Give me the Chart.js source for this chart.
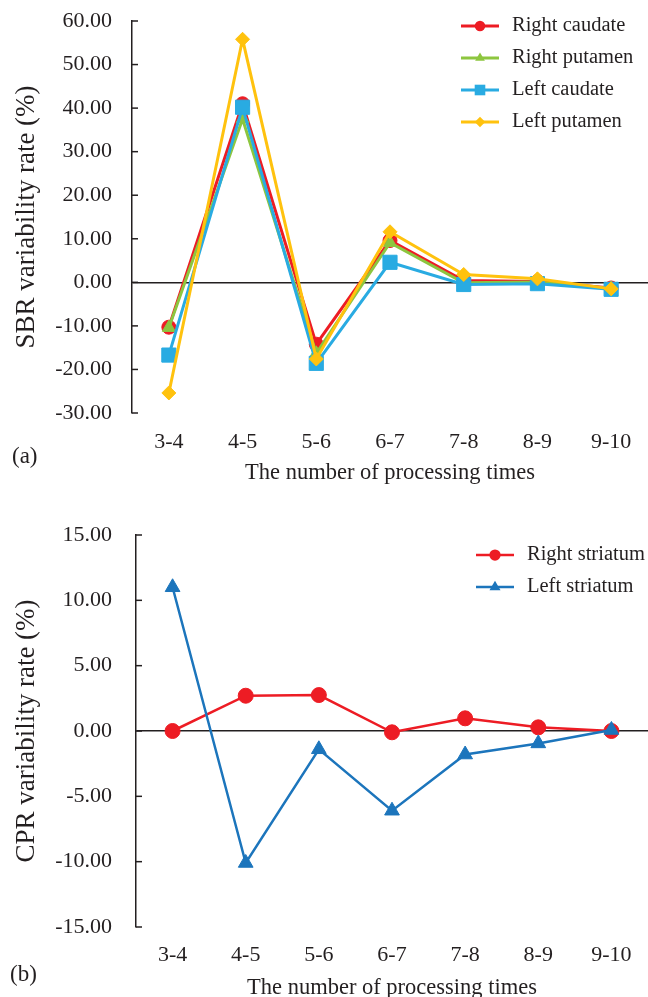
<!DOCTYPE html>
<html>
<head>
<meta charset="utf-8">
<script src="https://cdn.jsdelivr.net/npm/chart.js@4.4.0/dist/chart.umd.min.js"></script>
<style>
  html, body { margin: 0; padding: 0; background: #fff; overflow: hidden; }
  body { width: 648px; height: 997px; position: relative; font-family: 'Liberation Serif', 'Times New Roman', serif; color: #231f20; }
  canvas { position: absolute; left: 0; }
  #chartA { top: 0; }
  #chartB { top: 497px; }
  .panel { position: absolute; font-size: 23px; line-height: 26px; }
</style>
</head>
<body>
<canvas id="chartA" width="648" height="497"></canvas>
<canvas id="chartB" width="648" height="520"></canvas>
<div class="panel" style="left:12px; top:443px">(a)</div>
<div class="panel" style="left:10px; top:961px">(b)</div>
<script>
const categories = ["3-4", "4-5", "5-6", "6-7", "7-8", "8-9", "9-10"];

// (a) SBR variability rate (%)
const rightCaudate = [-10.3, 41.0, -14.2, 9.6, 0.4, 0.2, -1.3];
const rightPutamen = [-10.4, 37.5, -16.3, 9.1, -0.1, 0.1, -1.4];
const leftCaudate  = [-16.7, 40.2, -18.6, 4.6, -0.5, -0.3, -1.6];
const leftPutamen  = [-25.4, 55.8, -17.6, 11.6, 1.8, 0.8, -1.5];

// (b) CPR variability rate (%)
const rightStriatum = [0, 2.70, 2.75, -0.10, 0.97, 0.28, 0];
const leftStriatum  = [11.0, -10.1, -1.4, -6.1, -1.8, -0.95, 0.08];

const axisColor = "#231f20";
const serif = "'Liberation Serif', 'Times New Roman', serif";

// tick marks pointing into the plot, like the original
const insideTicks = {
  id: "insideTicks",
  afterDraw(chart) {
    const y = chart.scales.y, ctx = chart.ctx, left = chart.chartArea.left;
    ctx.save();
    ctx.strokeStyle = axisColor;
    ctx.lineWidth = 1.5;
    y.ticks.forEach((t, i) => {
      const py = y.getPixelForTick(i);
      ctx.beginPath();
      ctx.moveTo(left, py);
      ctx.lineTo(left + 6, py);
      ctx.stroke();
    });
    ctx.restore();
  }
};

// legend with a line sample and the marker in the middle
const lineLegend = {
  id: "lineLegend",
  afterDraw(chart, args, opts) {
    const ctx = chart.ctx;
    chart.data.datasets.forEach((ds, i) => {
      const y = chart.chartArea.top + opts.top + i * opts.gap;
      ctx.save();
      ctx.strokeStyle = ds.borderColor;
      ctx.lineWidth = ds.borderWidth;
      ctx.beginPath();
      ctx.moveTo(opts.x, y);
      ctx.lineTo(opts.x + opts.sample, y);
      ctx.stroke();
      ctx.fillStyle = ds.backgroundColor;
      Chart.helpers.drawPoint(ctx, { pointStyle: ds.pointStyle, radius: ds.pointRadius * 0.75, borderWidth: 0, rotation: 0 }, opts.x + opts.sample / 2, y);
      ctx.fillStyle = axisColor;
      ctx.font = opts.fontSize + "px " + serif;
      ctx.textBaseline = "middle";
      ctx.fillText(ds.label, opts.x + opts.sample + opts.textGap, y);
      ctx.restore();
    });
  }
};

function series(label, data, color, style, radius, width, order) {
  return {
    label: label, data: data, order: order,
    borderColor: color, backgroundColor: color, borderWidth: width,
    pointStyle: style, pointRadius: radius, pointHoverRadius: radius,
    pointBackgroundColor: color, pointBorderColor: color, pointBorderWidth: 1,
    tension: 0, fill: false
  };
}

// no extra room for half labels: the plot box is set by the layout padding
function noPadding(s) {
  s.paddingTop = 0; s.paddingBottom = 0; s.paddingLeft = 0; s.paddingRight = 0;
}

function makeChart(id, datasets, o) {
  return new Chart(document.getElementById(id), {
    type: "line",
    data: { labels: categories, datasets: datasets },
    plugins: [insideTicks, lineLegend],
    options: {
      responsive: false,
      animation: false,
      layout: { autoPadding: false, padding: { top: o.top, left: 0, right: 0, bottom: 0 } },
      plugins: {
        legend: { display: false },
        tooltip: { enabled: false },
        lineLegend: o.legend
      },
      scales: {
        x: {
          offset: true,
          grid: { display: false },
          border: { display: false },
          ticks: { padding: o.xPad, color: axisColor, font: { family: serif, size: 22 }, maxRotation: 0, autoSkip: false },
          title: { display: true, text: "The number of processing times", color: axisColor, font: { family: serif, size: 22.5 }, padding: { top: 0, bottom: o.xTitlePad } },
          afterFit: s => { s.height = o.xHeight; noPadding(s); }
        },
        y: {
          min: o.min, max: o.max,
          ticks: { stepSize: o.step, padding: o.yPad, color: axisColor, font: { family: serif, size: 22 }, callback: v => Number(v).toFixed(2) },
          grid: { drawTicks: false, lineWidth: 1.5, color: c => (c.tick && c.tick.value === 0) ? axisColor : "rgba(0,0,0,0)" },
          border: { display: true, color: axisColor, width: 1.5 },
          title: { display: true, text: o.yTitle, color: axisColor, font: { family: serif, size: 27 }, padding: { top: 11, bottom: 0 } },
          afterFit: s => { s.width = o.yWidth; noPadding(s); }
        }
      }
    }
  });
}

makeChart("chartA", [
  series("Right caudate", rightCaudate, "#ed1c24", "circle", 7, 3, 3),
  series("Right putamen", rightPutamen, "#8dc63f", "triangle", 7.5, 3, 2),
  series("Left caudate", leftCaudate, "#29abe2", "rect", 10, 3, 1),
  series("Left putamen", leftPutamen, "#ffc20e", "rectRot", 7, 3, 0)
], {
  top: 21, xHeight: 84, yWidth: 132, xPad: 8, yPad: 20, xTitlePad: 10,
  min: -30, max: 60, step: 10, yTitle: "SBR variability rate (%)",
  legend: { x: 461, top: 5, gap: 32, sample: 38, textGap: 13, fontSize: 20.5 }
});

makeChart("chartB", [
  series("Right striatum", rightStriatum, "#ed1c24", "circle", 7.5, 2.5, 1),
  series("Left striatum", leftStriatum, "#1c75bc", "triangle", 8.5, 2.5, 0)
], {
  top: 38, xHeight: 90, yWidth: 136, xPad: 7, yPad: 24, xTitlePad: 15,
  min: -15, max: 15, step: 5, yTitle: "CPR variability rate (%)",
  legend: { x: 476, top: 20, gap: 32, sample: 38, textGap: 13, fontSize: 20.5 }
});
</script>
</body>
</html>
